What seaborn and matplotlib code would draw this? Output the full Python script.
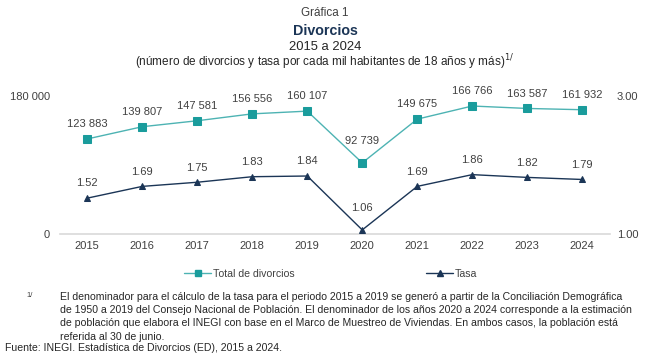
"""
Gráfica 1 - Divorcios 2015 a 2024 (total y tasa)
"""

import pandas as pd
import matplotlib.pyplot as plt
import seaborn as sns
from matplotlib.lines import Line2D

sns.set_style("white")
plt.rcParams['font.family'] = ['Liberation Sans', 'DejaVu Sans']

# Data
years = [2015, 2016, 2017, 2018, 2019, 2020, 2021, 2022, 2023, 2024]
total_divorcios = [123883, 139807, 147581, 156556, 160107, 92739, 149675, 166766, 163587, 161932]
tasa = [1.52, 1.69, 1.75, 1.83, 1.84, 1.06, 1.69, 1.86, 1.82, 1.79]

left_ticks = [0, 180000]
left_tick_labels = ['0', '180 000']
right_ticks = [1.0, 3.0]
right_tick_labels = ['1.00', '3.00']

TEAL = '#1A9C9C'
TEAL_LINE = '#4DB3B3'
NAVY = '#1B3556'
TXT = '#404040'


def fmt_miles(v):
    return f"{v:,}".replace(',', ' ')


df = pd.DataFrame({'Año': years, 'Total': total_divorcios, 'Tasa': tasa})

fig = plt.figure(figsize=(6.5, 3.59), dpi=100)
ax = fig.add_axes([0.092, 0.348, 0.846, 0.385])
ax2 = ax.twinx()

sns.lineplot(data=df, x='Año', y='Total', ax=ax, color=TEAL_LINE, linewidth=1.0,
             marker='s', markersize=6, markerfacecolor=TEAL, markeredgecolor=TEAL)
sns.lineplot(data=df, x='Año', y='Tasa', ax=ax2, color=NAVY, linewidth=1.0,
             marker='^', markersize=5, markerfacecolor=NAVY, markeredgecolor=NAVY)

# labels above points; the dip (minimum) gets a little more room so it clears the line
for x, v in zip(years, total_divorcios):
    off = 12 if v == min(total_divorcios) else 7
    ax.annotate(fmt_miles(v), (x, v), xytext=(0, off), textcoords='offset points',
                ha='center', va='bottom', fontsize=8, color=TXT)
for x, v in zip(years, tasa):
    off = 12 if v == min(tasa) else 7
    ax2.annotate(f"{v:.2f}", (x, v), xytext=(0, off), textcoords='offset points',
                 ha='center', va='bottom', fontsize=8, color=TXT)

ax.set_xlim(2014.5, 2024.5)
ax.set_ylim(0, 180000)
ax2.set_ylim(1.0, 3.0)
ax.set_xticks(years)
ax.set_xticklabels([str(y) for y in years], fontsize=8, color=TXT)
ax.set_yticks(left_ticks)
ax.set_yticklabels(left_tick_labels, fontsize=8, color=TXT)
ax2.set_yticks(right_ticks)
ax2.set_yticklabels(right_tick_labels, fontsize=8, color=TXT)
ax.set_xlabel('')
ax.set_ylabel('')
ax2.set_ylabel('')
ax.tick_params(axis='x', length=0, pad=5)
ax.tick_params(axis='y', length=0, pad=7)
ax2.tick_params(axis='y', length=0, pad=5)

for a in (ax, ax2):
    for s in ['top', 'left', 'right', 'bottom']:
        a.spines[s].set_visible(False)
ax.spines['bottom'].set_visible(True)
ax.spines['bottom'].set_color('#D9D9D9')
ax.spines['bottom'].set_linewidth(1.2)

# Titles
fig.text(0.5, 0.963, 'Gráfica 1', ha='center', va='center', fontsize=8.4, color='#404040')
fig.text(0.5, 0.915, 'Divorcios', ha='center', va='center', fontsize=10.3,
         fontweight='bold', color=NAVY)
fig.text(0.5, 0.870, '2015 a 2024', ha='center', va='center', fontsize=9.4, color='#262626')
fig.text(0.5, 0.828, '(número de divorcios y tasa por cada mil habitantes de 18 años y más)$^{1/}$',
         ha='center', va='center', fontsize=8.5, color='#262626')

# Legend
handles = [
    Line2D([], [], color=TEAL_LINE, marker='s', markersize=4, markerfacecolor=TEAL,
           markeredgecolor=TEAL, linewidth=1),
    Line2D([], [], color=NAVY, marker='^', markersize=4, markerfacecolor=NAVY,
           markeredgecolor=NAVY, linewidth=1),
]
fig.legend(handles, ['Total de divorcios', 'Tasa'], loc='center', bbox_to_anchor=(0.509, 0.238),
           ncol=2, frameon=False, fontsize=7.6, columnspacing=12.5, handlelength=2.5,
           handletextpad=0.2, labelcolor=TXT)

# Footnote
nota = ("El denominador para el cálculo de la tasa para el periodo 2015 a 2019 se generó a partir de la Conciliación Demográfica\n"
        "de 1950 a 2019 del Consejo Nacional de Población. El denominador de los años 2020 a 2024 corresponde a la estimación\n"
        "de población que elabora el INEGI con base en el Marco de Muestreo de Viviendas. En ambos casos, la población está\n"
        "referida al 30 de junio.")
fig.text(0.040, 0.188, '1/', fontsize=5.5, color=TXT, va='top')
fig.text(0.092, 0.188, nota, fontsize=7.6, color='#262626', va='top', linespacing=1.42)
fig.text(0.008, 0.030, 'Fuente: INEGI. Estadística de Divorcios (ED), 2015 a 2024.',
         fontsize=7.6, color='#262626', va='center')

fig.savefig('out.png', dpi=100)
